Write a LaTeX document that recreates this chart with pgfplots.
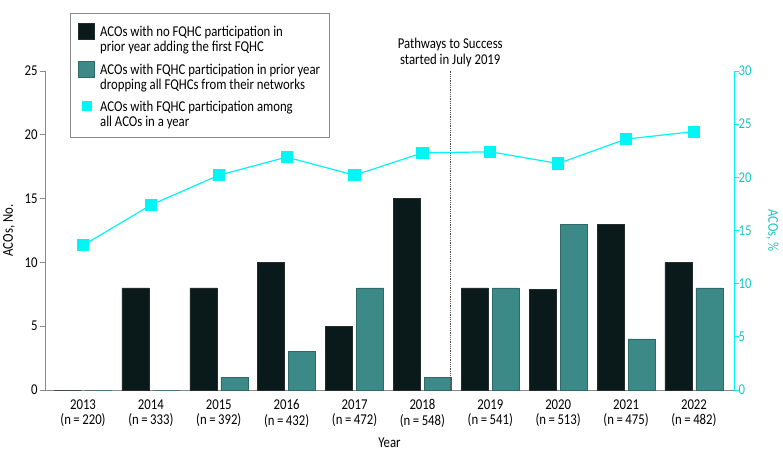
\documentclass[border=0pt]{standalone}
\usepackage{pgfplots}
\pgfplotsset{compat=1.18}
\usepackage{fontspec}
\setmainfont{Carlito}[FakeStretch=0.85]
\definecolor{dark}{HTML}{0A1A1A}
\definecolor{tealbar}{HTML}{3B8A88}
\definecolor{tealedge}{HTML}{2F6A68}
\definecolor{cyanline}{HTML}{00F5F5}
\definecolor{cyantext}{HTML}{1CC4C4}
\definecolor{axgray}{HTML}{8A8A8A}
\begin{document}
\begin{tikzpicture}[x=1pt,y=1pt]
\path[use as bounding box] (-45,-70) rectangle (738,390);
\begin{axis}[
  at={(0,0)}, anchor=south west,
  scale only axis, width=689pt, height=319pt,
  xmin=-0.56, xmax=9.59, ymin=0, ymax=25,
  axis y line*=left, axis x line*=bottom,
  axis line style={axgray, line width=0.8pt},
  ytick={0,5,10,15,20,25},
  xtick={0,...,9},
  xticklabels={{2013\\(n\,=\,220)},{2014\\(n\,=\,333)},{2015\\(n\,=\,392)},{2016\\(n\,=\,432)},{2017\\(n\,=\,472)},{2018\\(n\,=\,548)},{2019\\(n\,=\,541)},{2020\\(n\,=\,513)},{2021\\(n\,=\,475)},{2022\\(n\,=\,482)}},
  xticklabel style={align=center, font=\fontsize{15}{15.5}\selectfont, yshift=-1pt},
  yticklabel style={font=\fontsize{15}{16}\selectfont, xshift=1pt},
  /pgf/number format/assume math mode=true,
  major x tick style={draw=none},
  major y tick style={axgray, line width=0.8pt},
  tick align=outside, major tick length=5pt,
  xlabel={Year}, ylabel={ACOs, No.},
  xlabel style={font=\fontsize{15}{16}\selectfont, yshift=-4pt},
  ylabel style={font=\fontsize{15}{16}\selectfont, yshift=3pt},
  clip=false,
  legend style={at={(rel axis cs:0.0363,1.182)}, anchor=north west, draw=axgray, line width=0.8pt, fill=white,
    font=\fontsize{15}{15.5}\selectfont, cells={align=left, anchor=west}, inner xsep=7.5pt, inner ysep=7pt,
    row sep=6pt, column sep=2pt},
  legend cell align=left,
]
\addplot[ybar, bar width=27pt, bar shift=-15.5pt, fill=dark, draw=dark!80!gray, line width=0.5pt,
  area legend, legend image code/.code={\draw[fill=dark,draw=dark!80!gray] (0pt,0pt) rectangle (16pt,16pt); \path[draw=none,fill=none] (0pt,0pt) -- (18pt,0pt) (0pt,19pt) -- (1pt,19pt);}]
  coordinates {(0,0) (1,8) (2,8) (3,10) (4,5) (5,15) (6,8) (7,7.9) (8,13) (9,10)};
\addlegendentry{ACOs with no FQHC participation in\\prior year adding the first FQHC}
\addplot[ybar, bar width=27pt, bar shift=15.5pt, fill=tealbar, draw=tealedge, line width=0.5pt,
  area legend, legend image code/.code={\draw[fill=tealbar,draw=tealedge] (0pt,0pt) rectangle (16pt,16pt); \path[draw=none,fill=none] (0pt,0pt) -- (18pt,0pt);}]
  coordinates {(0,0) (1,0) (2,1) (3,3) (4,8) (5,1) (6,8) (7,13) (8,4) (9,8)};
\addlegendentry{ACOs with FQHC participation in prior year\\dropping all FQHCs from their networks}
\addlegendimage{legend image code/.code={\fill[cyanline] (4pt,4pt) rectangle (13pt,13pt); \path[draw=none,fill=none] (0pt,0pt) -- (18pt,0pt);}}
\addlegendentry{ACOs with FQHC participation among\\all ACOs in a year}
\draw[densely dotted, line width=0.8pt, black!70] (axis cs:5.41,0) -- (axis cs:5.41,25.1);
\node[anchor=south, align=center, font=\fontsize{15}{16}\selectfont, inner sep=1pt] at (axis cs:5.41,25.25) {Pathways to Success\\started in July 2019};
\end{axis}
\begin{axis}[
  at={(0,0)}, anchor=south west,
  scale only axis, width=689pt, height=319pt,
  xmin=-0.56, xmax=9.59, ymin=0, ymax=30,
  axis y line*=right, axis x line=none,
  axis line style={cyanline, line width=0.8pt},
  ytick={0,5,10,15,20,25,30},
  yticklabel style={font=\fontsize{15}{16}\selectfont, text=cyantext, xshift=-4pt},
  /pgf/number format/assume math mode=true,
  major y tick style={cyanline, line width=0.8pt},
  tick align=outside, major tick length=5pt,
  ylabel={ACOs, \%},
  ylabel style={font=\fontsize{15}{16}\selectfont, text=cyantext, rotate=180, yshift=8pt},
  clip=false,
]
\addplot[cyanline, line width=1.2pt, mark=square*, mark size=5.5pt, mark options={fill=cyanline, draw=cyanline}]
  coordinates {(0,13.6) (1,17.4) (2,20.2) (3,21.9) (4,20.2) (5,22.3) (6,22.4) (7,21.3) (8,23.6) (9,24.3)};
\end{axis}
\end{tikzpicture}
\end{document}
